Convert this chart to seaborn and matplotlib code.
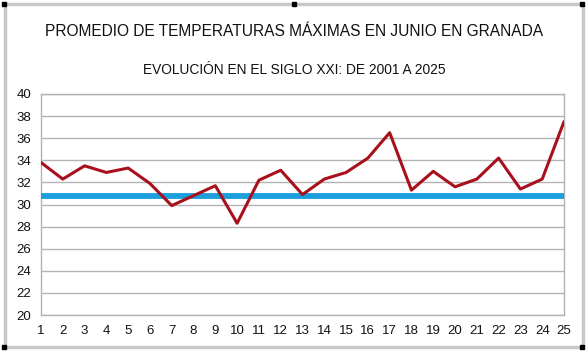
import matplotlib
matplotlib.use("Agg")
import matplotlib.pyplot as plt
import seaborn as sns
import pandas as pd
from matplotlib.patches import Rectangle

# datos (2001 = 1 ... 2025 = 25)
years = list(range(1, 26))
temps = [33.8, 32.3, 33.5, 32.9, 33.3, 31.9, 29.9, 30.8, 31.7, 28.3,
         32.2, 33.1, 30.9, 32.3, 32.9, 34.2, 36.5, 31.3, 33.0, 31.6,
         32.3, 34.2, 31.4, 32.3, 37.5]
reference = 30.8
yticks = list(range(20, 41, 2))

title = "PROMEDIO DE TEMPERATURAS MÁXIMAS EN JUNIO EN GRANADA"
subtitle = "EVOLUCIÓN EN EL SIGLO XXI: DE 2001 A 2025"

df = pd.DataFrame({"year": years, "temp": temps})

sns.set_style("white")
plt.rcParams["font.family"] = ["Liberation Sans", "DejaVu Sans"]

fig = plt.figure(figsize=(5.88, 3.52), dpi=100)
ax = fig.add_axes([41 / 588, 1 - 315 / 352, 523 / 588, 221 / 352])

ax.axhline(reference, color="#1a9fdc", lw=4.2, zorder=3)
sns.lineplot(data=df, x="year", y="temp", ax=ax, color="#a8101c", lw=2.2, zorder=4)

ax.set_xlim(1, 25)
ax.set_ylim(20, 40)
ax.set_xticks(years)
ax.set_yticks(yticks)
ax.set_xlabel("")
ax.set_ylabel("")
ax.yaxis.grid(True, color="#b3b3b3", lw=1)
ax.xaxis.grid(False)
for s in ax.spines.values():
    s.set_color("#b3b3b3")
    s.set_linewidth(1)
ax.tick_params(axis="both", length=5, width=1, color="#b3b3b3",
               labelsize=9.5, labelcolor="#111111", pad=2)

fig.text(0.5, 1 - 32 / 352, title, ha="center", va="center", fontsize=11.2, color="#111111")
fig.text(0.5, 1 - 70 / 352, subtitle, ha="center", va="center", fontsize=9.9, color="#111111")

# marco de seleccion de la hoja de calculo
fig.patches.append(Rectangle((4.5 / 588, 1 - 346.5 / 352), 578 / 588, 343 / 352,
                             transform=fig.transFigure, fill=False,
                             edgecolor="#c8c8c8", lw=2.5))
for hx, hy in [(4, 4), (294, 4), (582, 4), (4, 347), (582, 347)]:
    fig.patches.append(Rectangle(((hx - 2) / 588, 1 - (hy + 2) / 352), 4 / 588, 4 / 352,
                                 transform=fig.transFigure, color="black"))

fig.savefig("out.png", dpi=100)
